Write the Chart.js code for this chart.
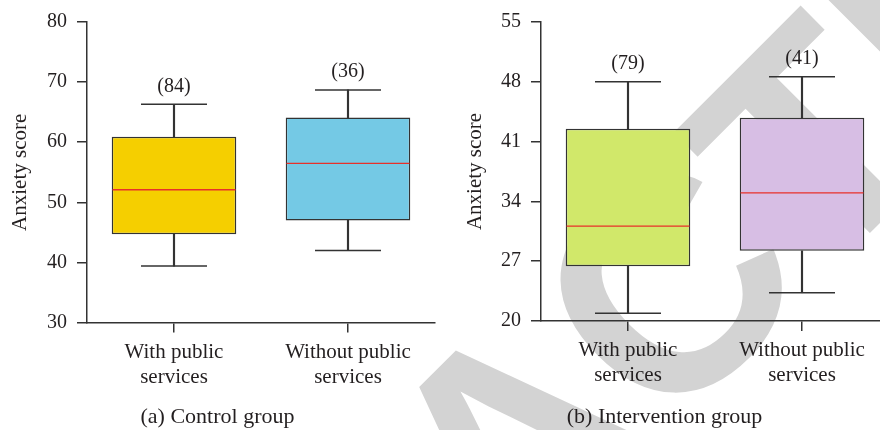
<!DOCTYPE html>
<html>
<head>
<meta charset="utf-8">
<script src="https://cdn.jsdelivr.net/npm/chart.js@4.4.1/dist/chart.umd.min.js"></script>
<style>
  html, body { margin: 0; padding: 0; background: #ffffff; overflow: hidden; }
  #page { position: relative; width: 880px; height: 430px; overflow: hidden; background: #ffffff; }
  #stamp { position: absolute; left: 0; top: 0; z-index: 0; }
  .panel { position: absolute; top: 0; z-index: 1; }
  #panelA { left: 0; }
  #panelB { left: 440px; }
</style>
</head>
<body>
<div id="page">
  <svg id="stamp" width="880" height="430" viewBox="0 0 880 430">
    <text x="-79" y="1182" transform="rotate(-45 -79 1182)"
          font-family="Liberation Sans, Arial, sans-serif" font-weight="bold"
          font-size="305" fill="#d3d3d3">RETRACTED</text>
  </svg>
  <canvas id="panelA" class="panel" width="440" height="430"></canvas>
  <canvas id="panelB" class="panel" width="472" height="430"></canvas>
</div>
<script>
// Groups shown on the x axis
const categories = [['With public', 'services'], ['Without public', 'services']];

// (a) Control group: five-number summaries per group
const controlMin    = [39.4, 42.0];
const controlQ1     = [44.7, 47.0];
const controlMedian = [52.1, 56.5];
const controlQ3     = [60.9, 64.1];
const controlMax    = [66.3, 68.7];
const controlCounts = [84, 36];
const controlTicks  = [30, 40, 50, 60, 70, 80];

// (b) Intervention group
const interventionMin    = [20.9, 23.3];
const interventionQ1     = [26.4, 28.2];
const interventionMedian = [31.1, 35.0];
const interventionQ3     = [42.5, 43.8];
const interventionMax    = [48.0, 48.6];
const interventionCounts = [79, 41];
const interventionTicks  = [20, 27, 34, 41, 48, 55];

const INK = '#231f20';
const LINE = '#333333';
const MEDIAN = '#e8302a';
const SERIF = '"Liberation Serif", "Times New Roman", serif';

// Writes "(n)" above each upper whisker cap
const countLabels = {
  id: 'countLabels',
  afterDatasetsDraw(chart, args, opts) {
    const meta = chart.getDatasetMeta(opts.capIndex);
    const ctx = chart.ctx;
    ctx.save();
    ctx.font = '20px ' + SERIF;
    ctx.fillStyle = INK;
    ctx.textAlign = 'center';
    ctx.textBaseline = 'middle';
    meta.data.forEach((pt, i) => {
      ctx.fillText('(' + opts.counts[i] + ')', pt.x, pt.y - 18);
    });
    ctx.restore();
  }
};

function boxChart(canvas, cfg) {
  const n = categories.length;
  const boxes = [], upper = [], lower = [];
  for (let i = 0; i < n; i++) {
    boxes.push([cfg.q1[i], cfg.q3[i]]);
    upper.push([cfg.q3[i], cfg.max[i]]);
    lower.push([cfg.min[i], cfg.q1[i]]);
  }
  const capStyle = {
    type: 'line', showLine: false, pointStyle: 'line',
    pointRadius: 33, pointHoverRadius: 33, borderColor: LINE, borderWidth: 1.5
  };
  return new Chart(canvas, {
    type: 'bar',
    data: {
      labels: categories,
      datasets: [
        { // IQR boxes
          data: boxes, backgroundColor: cfg.colors, borderColor: LINE,
          borderWidth: 1.5, borderSkipped: false, grouped: false,
          barPercentage: 0.716, categoryPercentage: 1, order: 2
        },
        { // whisker stems above the box
          data: upper, backgroundColor: LINE, barThickness: 1.5,
          grouped: false, order: 3
        },
        { // whisker stems below the box
          data: lower, backgroundColor: LINE, barThickness: 1.5,
          grouped: false, order: 3
        },
        { // median line
          type: 'line', data: cfg.median, showLine: false, pointStyle: 'line',
          pointRadius: 61.5, pointHoverRadius: 61.5, borderColor: MEDIAN,
          borderWidth: 1.3, order: 0
        },
        Object.assign({ data: cfg.max, order: 1 }, capStyle),
        Object.assign({ data: cfg.min, order: 1 }, capStyle)
      ]
    },
    options: {
      responsive: false,
      animation: false,
      devicePixelRatio: 1,
      events: [],
      layout: {
        autoPadding: false,
        padding: { left: 0, right: cfg.padRight, top: cfg.padTop, bottom: 0 }
      },
      plugins: {
        legend: { display: false },
        tooltip: { enabled: false },
        title: {
          display: true, position: 'bottom', text: cfg.caption,
          font: { family: SERIF, size: 22, weight: 'normal', lineHeight: 1.2 },
          color: INK, padding: { top: 0, bottom: 0 }
        },
        countLabels: { capIndex: 4, counts: cfg.counts }
      },
      scales: {
        x: {
          type: 'category', offset: true,
          grid: { offset: false, drawOnChartArea: false, drawTicks: true, tickLength: 10, color: LINE, lineWidth: 1.5 },
          border: { display: true, color: LINE, width: 1.5 },
          ticks: { color: INK, padding: 7, font: { family: SERIF, size: 21, lineHeight: 1.2 } },
          afterFit(s) { s.height = cfg.xHeight; }
        },
        y: {
          min: cfg.ticks[0], max: cfg.ticks[cfg.ticks.length - 1],
          afterBuildTicks(s) { s.ticks = cfg.ticks.map(v => ({ value: v })); },
          grid: { drawOnChartArea: false, drawTicks: true, tickLength: 10, color: LINE, lineWidth: 1.5 },
          border: { display: true, color: LINE, width: 1.5 },
          ticks: { color: INK, padding: 10, font: { family: SERIF, size: 20 } },
          title: {
            display: true, text: 'Anxiety score', color: INK,
            font: { family: SERIF, size: 21, lineHeight: 1.2 },
            padding: { top: cfg.titlePad, bottom: 0 }
          },
          afterFit(s) { s.width = cfg.yWidth; }
        }
      }
    },
    plugins: [countLabels]
  });
}

boxChart(document.getElementById('panelA'), {
  min: controlMin, q1: controlQ1, median: controlMedian, q3: controlQ3, max: controlMax,
  counts: controlCounts, ticks: controlTicks,
  colors: ['#f5cf00', '#74c9e5'],
  caption: '(a) Control group',
  padTop: 18.7, padRight: 5, yWidth: 87, xHeight: 81, titlePad: 7.4
});

boxChart(document.getElementById('panelB'), {
  min: interventionMin, q1: interventionQ1, median: interventionMedian, q3: interventionQ3, max: interventionMax,
  counts: interventionCounts, ticks: interventionTicks,
  colors: ['#d1e86a', '#d7bee4'],
  caption: '(b) Intervention group',
  padTop: 16.7, padRight: 23, yWidth: 101, xHeight: 82.7, titlePad: 22.4
});
</script>
</body>
</html>
